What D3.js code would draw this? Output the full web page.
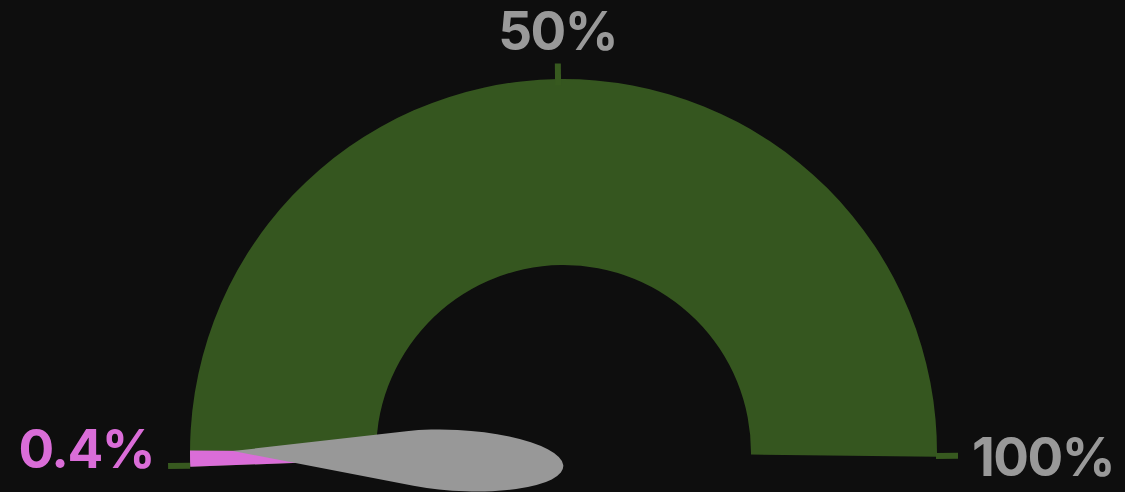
<!DOCTYPE html>
<html>
<head>
<meta charset="utf-8">
<script src="https://cdn.jsdelivr.net/npm/d3@7/dist/d3.min.js"></script>
<style>
  html, body { margin: 0; padding: 0; background: #0e0e0e; }
  svg { display: block; }
  text { font-family: Inter, "Open Sans", sans-serif; font-weight: 700; letter-spacing: -1.5px; }
</style>
</head>
<body>
<svg id="gauge" width="1125" height="492"></svg>
<script>
// Gauge data
const gaugeValue = [0.4];            // current reading, percent
const axisDomain = [0, 100];         // percent range of the dial
const tickValues = [0, 50, 100];     // tick marks around the dial
const axisLabelValues = [50, 100];   // tick labels drawn in grey
const valueFormat = v => `${v}%`;

const svg = d3.select("#gauge");
const rad = d => d * Math.PI / 180;

// Dial geometry
const center = { x: 563.5, y: 452.5 };
const outerR = 373.5, innerR = 187.5;
const minSweep = rad(2.5);           // keep very small readings visible on the band

const bandAngle = d3.scaleLinear().domain(axisDomain).range([rad(-92.2), rad(90.64)]);

// Scale ring (ticks and labels) sits just outside the band
const ring = { x: 563, y: 458.5, r0: 373, r1: 395, rLabel: 409 };
const tickAngle = d3.scaleLinear().domain(axisDomain).range([rad(-91.1), rad(89.6)]);

const arc = d3.arc().innerRadius(innerR).outerRadius(outerR);

const dial = svg.append("g").attr("transform", `translate(${center.x},${center.y})`);

// Full band
dial.append("path")
  .attr("d", arc({ startAngle: bandAngle(axisDomain[0]), endAngle: bandAngle(axisDomain[1]) }))
  .attr("fill", "#35561f");

// Value band
dial.selectAll("path.value")
  .data(gaugeValue)
  .join("path")
  .attr("class", "value")
  .attr("d", v => {
    const a0 = bandAngle(axisDomain[0]);
    const a1 = Math.max(bandAngle(v), a0 + minSweep);
    return arc({ startAngle: a0, endAngle: a1 });
  })
  .attr("fill", "#da6dd8");

// Ticks
const ringG = svg.append("g").attr("transform", `translate(${ring.x},${ring.y})`);
ringG.selectAll("line.tick")
  .data(tickValues)
  .join("line")
  .attr("class", "tick")
  .attr("x1", d => ring.r0 * Math.sin(tickAngle(d)))
  .attr("y1", d => -ring.r0 * Math.cos(tickAngle(d)))
  .attr("x2", d => ring.r1 * Math.sin(tickAngle(d)))
  .attr("y2", d => -ring.r1 * Math.cos(tickAngle(d)))
  .attr("stroke", "#37591f")
  .attr("stroke-width", 6);

// Axis labels
ringG.selectAll("text.axis")
  .data(axisLabelValues)
  .join("text")
  .attr("class", "axis")
  .attr("x", d => ring.rLabel * Math.sin(tickAngle(d)))
  .attr("y", d => -ring.rLabel * Math.cos(tickAngle(d)))
  .attr("text-anchor", d => Math.abs(Math.sin(tickAngle(d))) < 0.5 ? "middle" : "start")
  .attr("dy", d => Math.abs(Math.sin(tickAngle(d))) < 0.5 ? "0em" : "0.39em")
  .attr("font-size", 53)
  .attr("fill", "#999999")
  .text(valueFormat);

// Value label beside the start of the scale
ringG.selectAll("text.value")
  .data(gaugeValue)
  .join("text")
  .attr("class", "value")
  .attr("x", () => ring.rLabel * Math.sin(tickAngle(axisDomain[0])))
  .attr("y", () => -ring.rLabel * Math.cos(tickAngle(axisDomain[0])))
  .attr("dy", "0.03em")
  .attr("text-anchor", "end")
  .attr("font-size", 53)
  .attr("fill", "#da6dd8")
  .text(valueFormat);

// Needle: an elliptical bulb with straight sides running out to a sharp tip.
// Defined pointing left from the hub; sizes are fractions of the outer radius.
const needleSpec = {
  tip: [-0.8845, -0.0267],
  bulb: [-0.2816, 0.0142],
  rx: 0.2811,
  ry: 0.0816,
  tilt: 4.8            // degrees
};

function needlePath(spec, R) {
  const [px, py] = spec.tip.map(v => v * R);
  const [cx, cy] = spec.bulb.map(v => v * R);
  const a = spec.rx * R, b = spec.ry * R, t = rad(spec.tilt);
  const cos = Math.cos(t), sin = Math.sin(t);
  // tip expressed in the bulb's unit-circle frame
  const dx = px - cx, dy = py - cy;
  const qx = (dx * cos + dy * sin) / a;
  const qy = (-dx * sin + dy * cos) / b;
  const phi = Math.atan2(qy, qx);
  const delta = Math.acos(1 / Math.hypot(qx, qy));
  const onBulb = ang => {
    const u = a * Math.cos(ang), w = b * Math.sin(ang);
    return [cx + u * cos - w * sin, cy + u * sin + w * cos];
  };
  const upper = onBulb(phi + delta);
  const lower = onBulb(phi - delta);
  return `M${px},${py}L${upper[0]},${upper[1]}` +
         `A${a},${b} ${spec.tilt} 1 1 ${lower[0]},${lower[1]}Z`;
}

dial.selectAll("path.needle")
  .data(gaugeValue)
  .join("path")
  .attr("class", "needle")
  .attr("transform", v => `rotate(${bandAngle(v) * 180 / Math.PI + 90})`)
  .attr("d", needlePath(needleSpec, outerR))
  .attr("fill", "#989898");
</script>
</body>
</html>
